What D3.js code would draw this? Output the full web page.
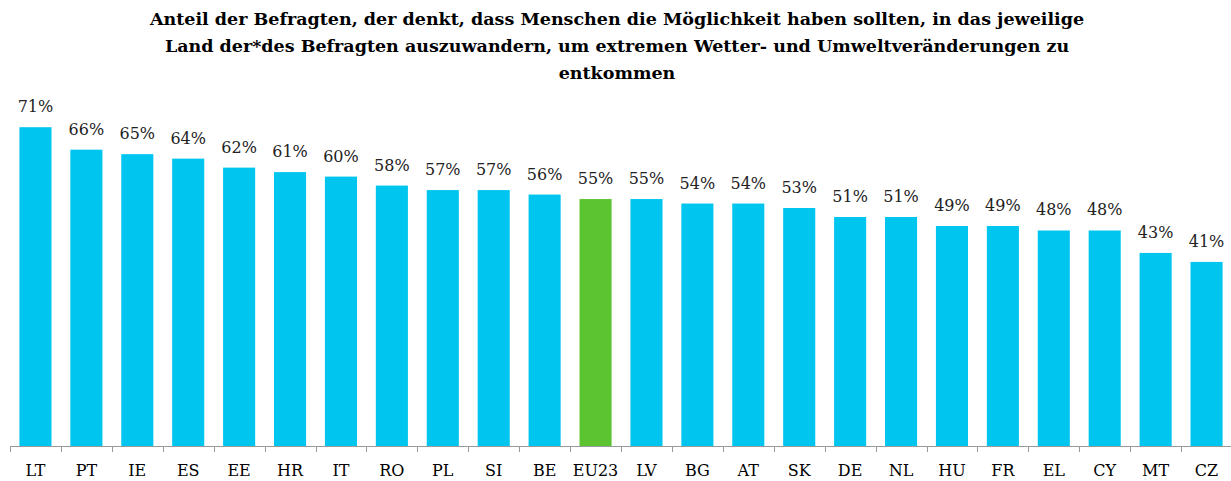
<!DOCTYPE html>
<html>
<head>
<meta charset="utf-8">
<script src="https://cdn.jsdelivr.net/npm/d3@7"></script>
<style>
  body { margin: 0; background: #fff; }
  text { font-family: "DejaVu Serif", "Liberation Serif", serif; }
</style>
</head>
<body>
<svg id="chart"></svg>
<script>
const width = 1231;
const height = 481;

const countries = ["LT", "PT", "IE", "ES", "EE", "HR", "IT", "RO", "PL", "SI", "BE", "EU23", "LV", "BG", "AT", "SK", "DE", "NL", "HU", "FR", "EL", "CY", "MT", "CZ"];
const shares = [71, 66, 65, 64, 62, 61, 60, 58, 57, 57, 56, 55, 55, 54, 54, 53, 51, 51, 49, 49, 48, 48, 43, 41];
const titleLines = [
  "Anteil der Befragten, der denkt, dass Menschen die Möglichkeit haben sollten, in das jeweilige",
  "Land der*des Befragten auszuwandern, um extremen Wetter- und Umweltveränderungen zu",
  "entkommen"
];

const data = countries.map((c, i) => ({ country: c, value: shares[i] }));

const svg = d3.select('svg#chart').attr('width', width).attr('height', height);

const baseY = 446;

const xScale = d3.scaleBand()
  .domain(countries)
  .range([10, 1232])
  .paddingInner(0.37)
  .paddingOuter(0.185);

const yScale = d3.scaleLinear()
  .domain([0, 100])
  .range([baseY, baseY - 449]);

// title
svg.append('g').selectAll('text')
  .data(titleLines)
  .enter().append('text')
  .attr('x', 617)
  .attr('y', (d, i) => 25 + i * 27)
  .attr('text-anchor', 'middle')
  .attr('font-weight', 'bold')
  .attr('font-size', 17.5)
  .attr('fill', '#000')
  .text(d => d);

// bars
svg.append('g').selectAll('rect')
  .data(data)
  .enter().append('rect')
  .attr('x', d => xScale(d.country))
  .attr('y', d => yScale(d.value))
  .attr('width', xScale.bandwidth())
  .attr('height', d => baseY - yScale(d.value))
  .attr('fill', d => d.country === 'EU23' ? '#5cc431' : '#00c5ee');

// value labels
svg.append('g').selectAll('text')
  .data(data)
  .enter().append('text')
  .attr('x', d => xScale(d.country) + xScale.bandwidth() / 2)
  .attr('y', d => yScale(d.value) - 15)
  .attr('text-anchor', 'middle')
  .attr('font-size', 16)
  .attr('fill', '#222')
  .text(d => d.value + '%');

// x axis, ticks sit between the bands
const axisG = svg.append('g');
axisG.append('line')
  .attr('x1', 10).attr('x2', 1231)
  .attr('y1', baseY + 0.5).attr('y2', baseY + 0.5)
  .attr('stroke', '#999');

const step = xScale.step();
axisG.selectAll('line.tick')
  .data(countries)
  .enter().append('line')
  .attr('class', 'tick')
  .attr('x1', d => Math.round(xScale(d) - step * xScale.paddingInner() / 2) + 0.5)
  .attr('x2', d => Math.round(xScale(d) - step * xScale.paddingInner() / 2) + 0.5)
  .attr('y1', baseY).attr('y2', baseY + 6)
  .attr('stroke', '#999');

axisG.selectAll('text')
  .data(countries)
  .enter().append('text')
  .attr('x', d => xScale(d) + xScale.bandwidth() / 2)
  .attr('y', 476)
  .attr('text-anchor', 'middle')
  .attr('font-size', 16)
  .attr('fill', '#000')
  .text(d => d);
</script>
</body>
</html>
